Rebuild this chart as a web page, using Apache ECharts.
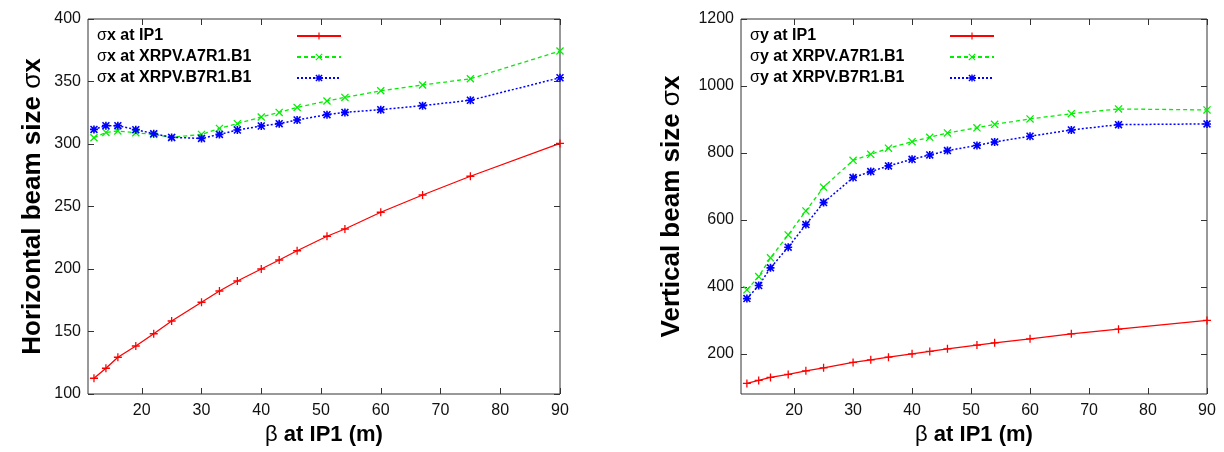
<!DOCTYPE html>
<html>
<head>
<meta charset="utf-8">
<script src="https://cdn.jsdelivr.net/npm/echarts@6/dist/echarts.min.js"></script>
<style>html,body{margin:0;padding:0;background:#fff}#c{width:1224px;height:452px}</style>
</head>
<body>
<div id="c"></div>
<script>
// ---- data ----
const beta = [12, 14, 16, 19, 22, 25, 30, 33, 36, 40, 43, 46, 51, 54, 60, 67, 75, 90];
const sigmaXIP1 = [112.6, 120.6, 129.4, 138.4, 148.2, 158.4, 173.4, 182.4, 190.4, 200, 207.2, 214.6, 226.2, 232, 245.4, 259.2, 274.2, 300.5];
const sigmaXA7 = [305, 309.3, 310.4, 309, 307.7, 305.3, 307.7, 312.5, 316.3, 321.6, 325.3, 329.3, 334.4, 337.3, 342.6, 347.2, 352.2, 374.4];
const sigmaXB7 = [311.7, 314.7, 314.7, 311.5, 308.3, 305.3, 304.5, 307.7, 311.2, 314.4, 316.3, 319.2, 323.5, 325.3, 327.5, 330.7, 335, 353];
const sigmaYIP1 = [111.6, 120.6, 129.5, 138.5, 149.3, 158.2, 174.2, 182.1, 190, 200, 207, 215, 226, 232.9, 244.8, 259.7, 273.7, 299.7];
const sigmaYA7 = [391, 430.8, 486.6, 555.2, 626.9, 697.6, 778, 796, 814, 833.7, 846.8, 859.7, 875, 885.6, 901.5, 917.3, 931.3, 928.4];
const sigmaYB7 = [365, 403.9, 456.7, 518.5, 586, 651.7, 726.3, 744.2, 761.2, 781, 794, 806.9, 822.4, 832.8, 849.8, 868.7, 884.5, 886.6];
const xTicks = [20, 30, 40, 50, 60, 70, 80, 90];
const yTicksRight = [200, 400, 600, 800, 1000, 1200];
const namesLeft = ['σx at IP1', 'σx at XRPV.A7R1.B1', 'σx at XRPV.B7R1.B1'];
const namesRight = ['σy at IP1', 'σy at XRPV.A7R1.B1', 'σy at XRPV.B7R1.B1'];

// ---- styling ----
const FONT = 'Liberation Sans, Arial, Helvetica, sans-serif';
const FRAME = '#333';
const PLUS = 'path://M4.2,0H5.8V10H4.2ZM0,4.2H10V5.8H0Z';
const CROSS = 'path://M0,1.1L1.1,0L10,8.9L8.9,10ZM8.9,0L10,1.1L1.1,10L0,8.9Z';
const STAR = 'path://M4,0H6V10H4ZM0,4H10V6H0ZM0,1.4L1.4,0L10,8.6L8.6,10ZM8.6,0L10,1.4L1.4,10L0,8.6Z';

const pairs = (ys) => beta.map((b, i) => [b, ys[i]]);

function xAx(gridIndex, pos, labels) {
  return {
    type: 'value', gridIndex, position: pos, min: 11, max: 90,
    axisLine: {show: false},
    splitLine: {show: false},
    axisTick: {show: true, inside: true, length: 6, customValues: xTicks, lineStyle: {color: FRAME, width: 1}},
    axisLabel: {show: labels, customValues: xTicks, color: '#111', fontSize: 16, fontFamily: FONT, margin: 9,
      formatter: (v) => String(v)},
    name: labels ? '{b|β} at IP1 (m)' : '',
    nameLocation: 'middle', nameGap: 27,
    nameTextStyle: {fontSize: 22, fontWeight: 'bold', fontFamily: FONT, color: '#000',
      rich: {b: {fontSize: 22, fontWeight: 'normal', fontFamily: FONT, color: '#000'}}}
  };
}
function yAx(gridIndex, pos, labels, cfg, name, gap) {
  const tick = {show: true, inside: true, length: 6, lineStyle: {color: FRAME, width: 1}};
  const lab = {show: labels, color: '#111', fontSize: 16, fontFamily: FONT, margin: 7, formatter: (v) => String(v)};
  if (cfg.custom) { tick.customValues = cfg.custom; lab.customValues = cfg.custom; }
  const ax = {
    type: 'value', gridIndex, position: pos, min: cfg.min, max: cfg.max,
    axisLine: {show: false}, splitLine: {show: false},
    axisTick: tick, axisLabel: lab,
    name: labels ? name : '', nameLocation: 'middle', nameGap: gap,
    nameTextStyle: {fontSize: 26, fontWeight: 'bold', fontFamily: FONT, color: '#000',
      rich: {s: {fontSize: 26, fontWeight: 'normal', fontFamily: FONT, color: '#000'}}}
  };
  if (cfg.interval) ax.interval = cfg.interval;
  return ax;
}
function legend(left, names) {
  return {
    orient: 'vertical', left, top: 28, padding: 0, itemGap: 5, align: 'right',
    itemWidth: 44, itemHeight: 9, data: names,
    formatter: (n) => '{g|' + n[0] + '}{t|' + n.slice(1) + '}',
    textStyle: {
      fontFamily: FONT, fontSize: 16, color: '#000',
      rich: {
        g: {fontFamily: FONT, fontSize: 16, fontWeight: 'normal', color: '#000', width: 10, align: 'left'},
        t: {fontFamily: FONT, fontSize: 16, fontWeight: 'bold', color: '#000', width: 185, align: 'left'}
      }
    }
  };
}
function ser(name, xi, yi, ys, color, sym, size, type, width) {
  return {
    name, type: 'line', xAxisIndex: xi, yAxisIndex: yi, data: pairs(ys),
    symbol: sym, symbolSize: size, showSymbol: true,
    itemStyle: {color}, lineStyle: {color, width, type},
    emphasis: {disabled: true}
  };
}

const chart = echarts.init(document.getElementById('c'), null, {renderer: 'canvas'});
chart.setOption({
  animation: false,
  backgroundColor: '#fff',
  grid: [
    {left: 88, top: 19, width: 472, height: 375, show: true, borderColor: FRAME, borderWidth: 1, backgroundColor: 'transparent'},
    {left: 741, top: 19, width: 466, height: 375, show: true, borderColor: FRAME, borderWidth: 1, backgroundColor: 'transparent'}
  ],
  xAxis: [xAx(0, 'bottom', true), xAx(0, 'top', false), xAx(1, 'bottom', true), xAx(1, 'top', false)],
  yAxis: [
    yAx(0, 'left', true, {min: 100, max: 400, interval: 50}, 'Horizontal beam size {s|σ}x', 42),
    yAx(0, 'right', false, {min: 100, max: 400, interval: 50}, '', 0),
    yAx(1, 'left', true, {min: 80, max: 1200, custom: yTicksRight}, 'Vertical beam size {s|σ}x', 56),
    yAx(1, 'right', false, {min: 80, max: 1200, custom: yTicksRight}, '', 0)
  ],
  legend: [legend(97, namesLeft), legend(750, namesRight)],
  series: [
    ser(namesLeft[0], 0, 0, sigmaXIP1, '#ff0000', PLUS, 8, 'solid', 1.3),
    ser(namesLeft[1], 0, 0, sigmaXA7, '#00ee00', CROSS, 8, [4, 3], 1.3),
    ser(namesLeft[2], 0, 0, sigmaXB7, '#0000ff', STAR, 8, [2, 2], 1.5),
    ser(namesRight[0], 2, 2, sigmaYIP1, '#ff0000', PLUS, 8, 'solid', 1.3),
    ser(namesRight[1], 2, 2, sigmaYA7, '#00ee00', CROSS, 8, [4, 3], 1.3),
    ser(namesRight[2], 2, 2, sigmaYB7, '#0000ff', STAR, 8, [2, 2], 1.5)
  ]
});
</script>
</body>
</html>
